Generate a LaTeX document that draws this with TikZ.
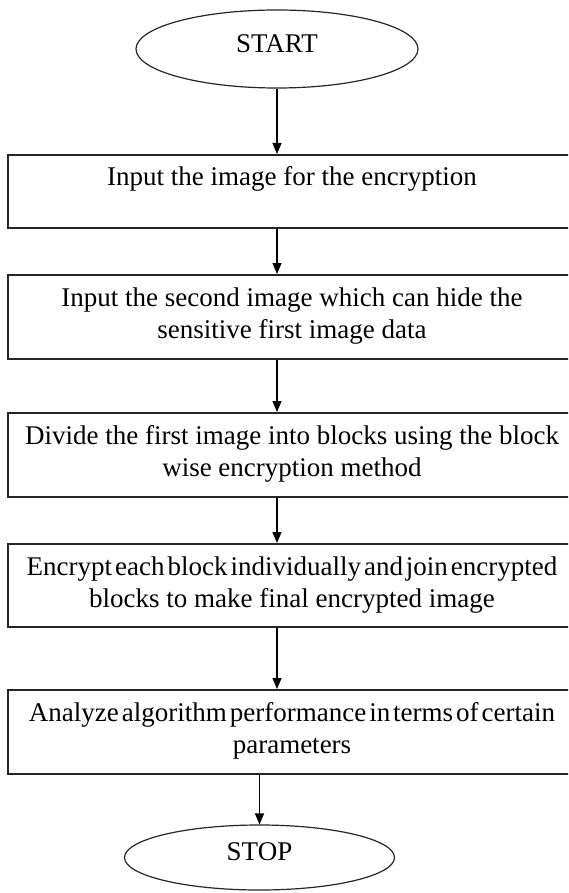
\documentclass[tikz,border=0pt]{standalone}
\usepackage{fontspec}
\setmainfont{Liberation Serif}
\usetikzlibrary{shapes.geometric, arrows.meta}
\newcommand{\tightsp}[1]{{\spaceskip=0.11em\relax #1}}

\begin{document}
\begin{tikzpicture}[x=1pt, y=-1pt,
      term/.style={draw=black!85, ellipse, line width=1.2pt, inner sep=0pt, text depth=11pt,
                   font=\fontsize{27}{32}\selectfont},
      nd/.style={draw=black!85, line width=1.6pt, anchor=north, minimum width=568pt, inner xsep=0pt,
                 inner ysep=0pt, align=center, text height=64pt, text depth=20pt, font=\fontsize{27}{32}\selectfont},
      ar/.style={-{Triangle[length=11pt,width=9pt]}, line width=1.3pt}]
      \useasboundingbox (0,0) rectangle (568,893);
      \clip (0,0) rectangle (568,893);
      \node[term, minimum width=282pt, minimum height=78pt] (start) at (277,49) {START};
      \node[nd, text height=31pt, text depth=42pt] (in1) at (292,154) {Input the image for the encryption};
      \node[nd] (in2) at (292,274) {Input the second image which can hide the\\sensitive first image data};
      \node[nd] (div) at (292,412) {Divide the first image into blocks using the block\\wise encryption method};
      \node[nd, text depth=19pt] (enc) at (292,543) {\tightsp{Encrypt each block individually and join encrypted}\\blocks to make final encrypted image};
      \node[nd] (ana) at (292,689) {\tightsp{Analyze algorithm performance in terms of certain}\\parameters};
      \node[term, minimum width=270pt, minimum height=65pt] (stop) at (259.5,857.5) {STOP};
      \draw[ar] (start.south) -- (start.south |- in1.north);
      \draw[ar] (in1.south -| start.south) -- (start.south |- in2.north);
      \draw[ar] (in2.south -| start.south) -- (start.south |- div.north);
      \draw[ar] (div.south -| start.south) -- (start.south |- enc.north);
      \draw[ar] (enc.south -| start.south) -- (start.south |- ana.north);
      \draw[ar] (ana.south -| stop.north) -- (stop.north);
\end{tikzpicture}
\end{document}
